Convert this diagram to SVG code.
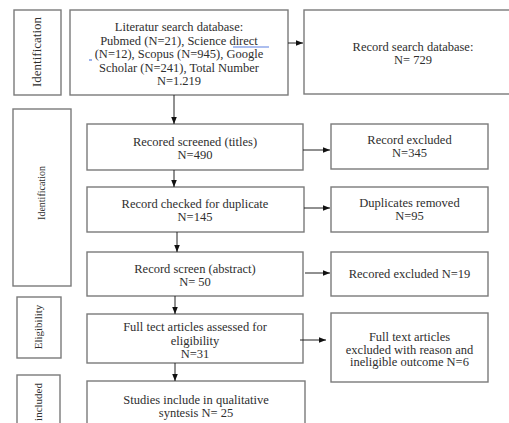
<svg xmlns="http://www.w3.org/2000/svg" width="509" height="423" viewBox="0 0 509 423">
<style>
.box{fill:#fff;stroke:#7a7a7a;stroke-width:1.4}
.t{font-family:"Liberation Serif","Times New Roman",serif;font-size:12.5px;fill:#2e2e2e;text-anchor:middle}
.s{font-family:"Liberation Serif","Times New Roman",serif;fill:#2e2e2e;text-anchor:middle}
.c{stroke:#222;stroke-width:1;fill:none;marker-end:url(#ah)}
</style>
<defs>
<marker id="ah" viewBox="0 0 10 10" refX="10" refY="5" markerWidth="7" markerHeight="7" markerUnits="userSpaceOnUse" orient="auto">
<path d="M0,1 L10,5 L0,9 Z" fill="#111"/>
</marker>
</defs>
<rect width="509" height="423" fill="#fff"/>

<g id="side-identification-1">
<rect class="box" x="14" y="10" width="47" height="85"/>
<text class="s" font-size="13" transform="translate(41,52) rotate(-90)">Identification</text>
</g>
<g id="side-identification-2">
<rect class="box" x="13" y="109" width="58" height="177"/>
<text class="s" font-size="10" transform="translate(45,193) rotate(-90)">Identification</text>
</g>
<g id="side-eligibility">
<rect class="box" x="17" y="297" width="44" height="61"/>
<text class="s" font-size="11" transform="translate(42,327) rotate(-90)">Eligibility</text>
</g>
<g id="side-included">
<rect class="box" x="17" y="375" width="43" height="60"/>
<text class="s" font-size="11" style="text-anchor:end" transform="translate(42,383) rotate(-90)">included</text>
</g>

<g id="n-literature">
<rect class="box" x="70" y="10" width="218" height="85"/>
<text class="t" x="179" y="31">Literatur search database:</text>
<text class="t" x="179" y="44.5">Pubmed (N=21), Science direct</text>
<text class="t" x="179" y="58">(N=12), Scopus (N=945), Google</text>
<text class="t" x="179" y="71.5">Scholar (N=241), Total  Number</text>
<text class="t" x="179" y="85">N=1.219</text>
<line x1="233" y1="47" x2="269" y2="47" stroke="#5b7fe0" stroke-width="1.2"/>
<line x1="89" y1="60" x2="92" y2="60" stroke="#5b7fe0" stroke-width="1.2"/>
</g>
<g id="n-record-search">
<rect class="box" x="304" y="10" width="210" height="84"/>
<text class="t" x="413" y="51">Record search database:</text>
<text class="t" x="413" y="64">N= 729</text>
</g>

<g id="n-screened">
<rect class="box" x="87" y="124" width="216" height="46"/>
<text class="t" x="195" y="146">Recored screened (titles)</text>
<text class="t" x="195" y="159">N=490</text>
</g>
<g id="n-excluded-345">
<rect class="box" x="331" y="124" width="157" height="45"/>
<text class="t" x="409.5" y="144">Record excluded</text>
<text class="t" x="409.5" y="157">N=345</text>
</g>

<g id="n-duplicate">
<rect class="box" x="87" y="187" width="217" height="45"/>
<text class="t" x="195" y="208">Record checked for duplicate</text>
<text class="t" x="195" y="221">N=145</text>
</g>
<g id="n-duplicates-removed">
<rect class="box" x="331" y="187" width="157" height="45"/>
<text class="t" x="409.5" y="207">Duplicates removed</text>
<text class="t" x="409.5" y="220">N=95</text>
</g>

<g id="n-abstract">
<rect class="box" x="87" y="252" width="216" height="44"/>
<text class="t" x="195" y="273">Record screen (abstract)</text>
<text class="t" x="195" y="286">N= 50</text>
</g>
<g id="n-excluded-19">
<rect class="box" x="331" y="252" width="157" height="44"/>
<text class="t" x="409.5" y="278">Recored excluded N=19</text>
</g>

<g id="n-fulltext">
<rect class="box" x="87" y="314" width="216" height="49"/>
<text class="t" x="195" y="331">Full tect articles assessed for</text>
<text class="t" x="195" y="344.5">eligibility</text>
<text class="t" x="195" y="358">N=31</text>
</g>
<g id="n-fulltext-excluded">
<rect class="box" x="331" y="313" width="157" height="69"/>
<text class="t" x="409.5" y="341">Full text articles</text>
<text class="t" x="409.5" y="353.5">excluded with reason and</text>
<text class="t" x="409.5" y="366">ineligible outcome N=6</text>
</g>

<g id="n-included">
<rect class="box" x="87" y="381" width="218" height="60"/>
<text class="t" x="196" y="404">Studies include in qualitative</text>
<text class="t" x="196" y="417">syntesis N= 25</text>
</g>

<g id="connectors">
<line class="c" x1="288" y1="43" x2="303" y2="43"/>
<line class="c" x1="174" y1="95" x2="174" y2="124"/>
<line class="c" x1="303" y1="150" x2="330" y2="150"/>
<line class="c" x1="174" y1="170" x2="174" y2="187"/>
<line class="c" x1="304" y1="208" x2="330" y2="208"/>
<line class="c" x1="177" y1="232" x2="177" y2="252"/>
<line class="c" x1="305" y1="273" x2="330" y2="273"/>
<line class="c" x1="175" y1="296" x2="175" y2="314"/>
<line class="c" x1="300" y1="340" x2="326" y2="340"/>
<line class="c" x1="175" y1="363" x2="175" y2="381"/>
</g>
</svg>
